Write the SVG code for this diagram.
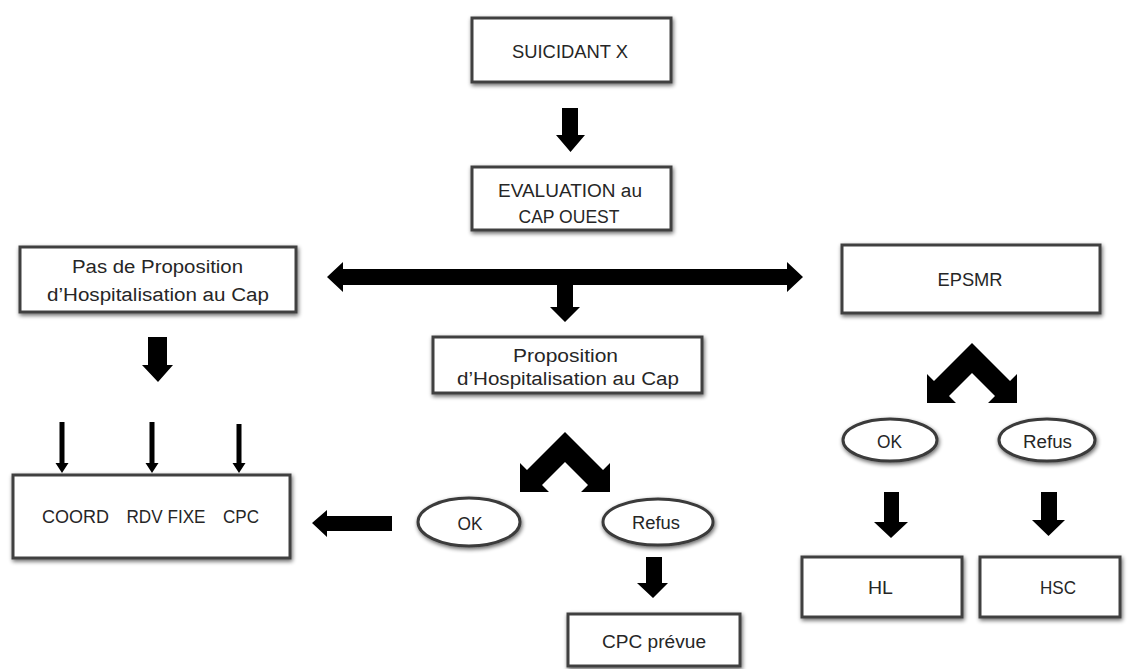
<svg xmlns="http://www.w3.org/2000/svg" width="1129" height="669" viewBox="0 0 1129 669">
  <style>
    .box { fill: #ffffff; stroke: #404040; stroke-width: 3; filter: url(#sh); }
    .ell { fill: #ffffff; stroke: #3a3a3a; stroke-width: 3; filter: url(#sh); }
    .t { font-family: "Liberation Sans", Arial, sans-serif; font-size: 18px; fill: #262626; text-anchor: middle; }
    .arr { fill: #000000; }
  </style>
  <defs>
    <filter id="sh" x="-15%" y="-30%" width="130%" height="160%">
      <feGaussianBlur in="SourceAlpha" stdDeviation="2"/>
      <feOffset dx="1" dy="1.5" result="b"/>
      <feComponentTransfer in="b" result="c"><feFuncA type="linear" slope="0.6"/></feComponentTransfer>
      <feMerge><feMergeNode in="c"/><feMergeNode in="SourceGraphic"/></feMerge>
    </filter>
  </defs>
  <rect width="1129" height="669" fill="#ffffff"/>

  <g id="connectors">
    <!-- SUICIDANT -> EVALUATION -->
    <polygon class="arr" points="562,108 578,108 578,135 585,135 570.5,152 556,135 562,135"/>
    <!-- double arrow with down stub -->
    <polygon class="arr" points="327,277 343,262 343,269 787,269 787,262 803,277 787,292 787,285 573,285 573,307 580,307 565,322 550,307 557,307 557,285 343,285 343,292"/>
    <!-- Pas -> COORD -->
    <polygon class="arr" points="148,337 167,337 167,365 173,365 158,382 142,365 148,365"/>
    <!-- small arrows into COORD box -->
    <polygon class="arr" points="59.5,422 64.5,422 64.5,463 68.5,463 62,473 55.5,463 59.5,463"/>
    <polygon class="arr" points="149.5,422 154.5,422 154.5,463 158.5,463 152,473 145.5,463 149.5,463"/>
    <polygon class="arr" points="236.5,424 241.5,424 241.5,463 245.5,463 239,473 232.5,463 236.5,463"/>
    <!-- OK -> COORD box -->
    <polygon class="arr" points="392,516 392,531 327,531 327,537 312,523 327,510 327,516"/>
    <!-- Proposition chevron -->
    <polygon class="arr" points="565,432 527,470 520,463 520,492 549,492 542,485 565,462 588,485 581,492 610,492 610,463 603,470"/>
    <!-- Refus -> CPC prévue -->
    <polygon class="arr" points="646,557 662,557 662,583 668,583 653,598 637,583 646,583"/>
    <!-- EPSMR chevron -->
    <polygon class="arr" points="972,343 934,381 927,374 927,403 956,403 949,396 972,373 995,396 988,403 1017,403 1017,374 1010,381"/>
    <!-- OK -> HL -->
    <polygon class="arr" points="884,492 899,492 899,522 908,522 891,538 874,522 884,522"/>
    <!-- Refus -> HSC -->
    <polygon class="arr" points="1041,492 1057,492 1057,520 1065,520 1048.5,536 1032,520 1041,520"/>
  </g>

  <g id="suicidant">
    <rect class="box" x="472" y="18" width="199" height="64"/>
    <text class="t" x="570" y="57.5" textLength="116" lengthAdjust="spacingAndGlyphs">SUICIDANT X</text>
  </g>
  <g id="evaluation">
    <rect class="box" x="472" y="167" width="199" height="63"/>
    <text class="t" x="570" y="196.5" textLength="144" lengthAdjust="spacingAndGlyphs">EVALUATION au</text>
    <text class="t" x="569" y="222.5" textLength="101" lengthAdjust="spacingAndGlyphs">CAP OUEST</text>
  </g>
  <g id="pas-proposition">
    <rect class="box" x="20" y="247" width="276" height="65"/>
    <text class="t" x="157.5" y="273" textLength="171" lengthAdjust="spacingAndGlyphs">Pas de Proposition</text>
    <text class="t" x="158" y="301" textLength="222" lengthAdjust="spacingAndGlyphs">d’Hospitalisation au Cap</text>
  </g>
  <g id="proposition">
    <rect class="box" x="433" y="337" width="269" height="56"/>
    <text class="t" x="565.5" y="361.5" textLength="105" lengthAdjust="spacingAndGlyphs">Proposition</text>
    <text class="t" x="568" y="385" textLength="222" lengthAdjust="spacingAndGlyphs">d’Hospitalisation au Cap</text>
  </g>
  <g id="epsmr">
    <rect class="box" x="842" y="245" width="258" height="68"/>
    <text class="t" x="970" y="285.5" textLength="65" lengthAdjust="spacingAndGlyphs">EPSMR</text>
  </g>
  <g id="coord">
    <rect class="box" x="13" y="475" width="277" height="83"/>
    <text class="t" x="75.5" y="523" textLength="67" lengthAdjust="spacingAndGlyphs">COORD</text>
    <text class="t" x="166" y="523" textLength="79" lengthAdjust="spacingAndGlyphs">RDV FIXE</text>
    <text class="t" x="241" y="523" textLength="36" lengthAdjust="spacingAndGlyphs">CPC</text>
  </g>
  <g id="ok-cap">
    <ellipse class="ell" cx="469" cy="522" rx="51" ry="24"/>
    <text class="t" x="470" y="530" textLength="25" lengthAdjust="spacingAndGlyphs">OK</text>
  </g>
  <g id="refus-cap">
    <ellipse class="ell" cx="658" cy="522" rx="55" ry="23"/>
    <text class="t" x="656" y="529" textLength="48" lengthAdjust="spacingAndGlyphs">Refus</text>
  </g>
  <g id="cpc-prevue">
    <rect class="box" x="568" y="614" width="172" height="52"/>
    <text class="t" x="654" y="648" textLength="104" lengthAdjust="spacingAndGlyphs">CPC prévue</text>
  </g>
  <g id="ok-epsmr">
    <ellipse class="ell" cx="890" cy="440" rx="47" ry="21"/>
    <text class="t" x="889.5" y="447.5" textLength="25" lengthAdjust="spacingAndGlyphs">OK</text>
  </g>
  <g id="refus-epsmr">
    <ellipse class="ell" cx="1047" cy="440" rx="48" ry="21"/>
    <text class="t" x="1047.5" y="447.5" textLength="49" lengthAdjust="spacingAndGlyphs">Refus</text>
  </g>
  <g id="hl">
    <rect class="box" x="802" y="557" width="160" height="60"/>
    <text class="t" x="880.5" y="594" textLength="25" lengthAdjust="spacingAndGlyphs">HL</text>
  </g>
  <g id="hsc">
    <rect class="box" x="980" y="557" width="140" height="60"/>
    <text class="t" x="1058" y="594" textLength="36" lengthAdjust="spacingAndGlyphs">HSC</text>
  </g>
</svg>
